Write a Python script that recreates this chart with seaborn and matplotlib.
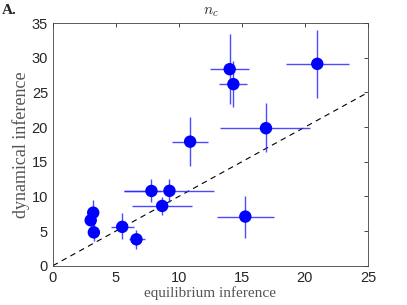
import numpy as np
import pandas as pd
import matplotlib
matplotlib.use("Agg")
import matplotlib.pyplot as plt
import seaborn as sns

# equilibrium vs dynamical inference of n_c
eq_x = [3.2, 3.0, 3.25, 5.5, 6.63, 7.82, 9.25, 8.67, 10.89, 14.03, 14.32, 16.91, 15.27, 20.98]
dyn_y = [7.65, 6.55, 4.8, 5.6, 3.8, 10.78, 10.8, 8.62, 17.9, 28.36, 26.2, 19.84, 7.08, 29.13]
x_lo = [2.85, 2.6, 3.0, 4.6, 6.05, 5.68, 5.68, 6.3, 9.46, 12.5, 13.2, 13.3, 13.05, 18.47]
x_hi = [3.6, 3.4, 3.5, 6.4, 7.3, 8.6, 12.76, 11.0, 12.3, 15.6, 15.43, 20.4, 17.55, 23.47]
y_lo = [5.6, 5.5, 3.5, 3.8, 2.35, 9.15, 9.15, 7.3, 14.4, 23.4, 22.9, 16.4, 3.95, 24.2]
y_hi = [9.5, 7.5, 6.6, 7.55, 5.15, 12.47, 12.5, 9.97, 21.4, 33.4, 29.6, 23.45, 10.1, 34.0]

df = pd.DataFrame({"equilibrium": eq_x, "dynamical": dyn_y})

sns.set_style("white")
plt.rcParams["mathtext.fontset"] = "cm"

fig = plt.figure(figsize=(4.07, 3.05), dpi=100)
ax = fig.add_axes([0.130, 0.129, 0.774, 0.795])

xerr = [np.array(eq_x) - np.array(x_lo), np.array(x_hi) - np.array(eq_x)]
yerr = [np.array(dyn_y) - np.array(y_lo), np.array(y_hi) - np.array(dyn_y)]
ax.errorbar(eq_x, dyn_y, xerr=xerr, yerr=yerr, fmt="none",
            ecolor="#2a2aff", elinewidth=1.0, alpha=0.85, zorder=2)

sns.scatterplot(data=df, x="equilibrium", y="dynamical", ax=ax,
                color="#0000ff", s=80, edgecolor="none", zorder=3)

ax.plot([0, 25], [0, 25], linestyle=(0, (5, 4)), color="black", linewidth=0.8, zorder=1)

ax.set_xlim(0, 25)
ax.set_ylim(0, 35)
ax.set_xticks(range(0, 26, 5))
ax.set_yticks(range(0, 36, 5))
ax.tick_params(direction="in", top=True, right=True, length=3, width=0.6,
               labelsize=10.5, colors="#262626")
for lab in ax.get_xticklabels() + ax.get_yticklabels():
    lab.set_family("Liberation Sans")
for sp in ax.spines.values():
    sp.set_color("#404040")
    sp.set_linewidth(0.6)

ax.set_xlabel("equilibrium inference", family="Liberation Serif", fontsize=11,
              color="#555555", labelpad=1)
ax.set_ylabel("dynamical inference", family="Liberation Serif", fontsize=13,
              color="#555555", labelpad=1)
ax.set_title("$n_c$", fontsize=11, pad=6)
fig.text(0.005, 0.955, "A.", family="Liberation Serif", fontweight="bold", fontsize=11)

fig.savefig("out.png", dpi=100)
